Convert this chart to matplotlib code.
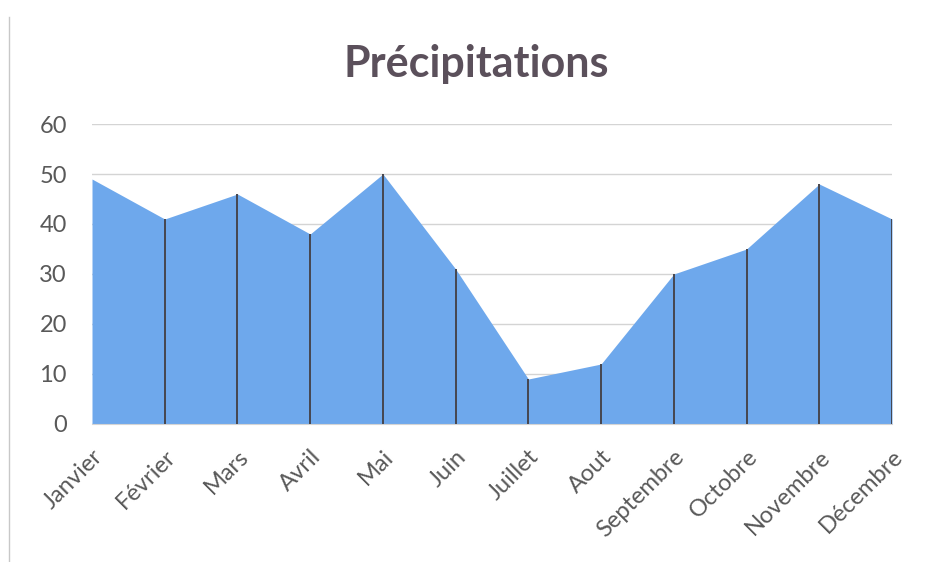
import matplotlib
matplotlib.use("Agg")
import matplotlib.pyplot as plt
import numpy as np

months = ["Janvier", "Février", "Mars", "Avril", "Mai", "Juin", "Juillet",
          "Aout", "Septembre", "Octobre", "Novembre", "Décembre"]
precip = [49, 41, 46, 38, 50, 31, 9, 12, 30, 35, 48, 41]
y_ticks = [0, 10, 20, 30, 40, 50, 60]

plt.rcParams["font.family"] = ["Lato", "DejaVu Sans"]

fig = plt.figure(figsize=(9.32, 5.62), dpi=100)
ax = fig.add_axes([92 / 932, 1 - 424 / 562, 800 / 932, 300 / 562])

x = np.arange(len(months))
ax.fill_between(x, 0, precip, color="#6ea8ec", linewidth=0, zorder=2)
ax.vlines(x[1:], 0, precip[1:], color="#46464e", linewidth=1.4, zorder=3)

ax.set_xlim(x[0], x[-1])
ax.set_ylim(0, 60)
ax.set_yticks(y_ticks)
ax.set_yticklabels([str(v) for v in y_ticks], fontsize=17, color="#595959")
ax.yaxis.grid(True, color="#d4d4d4", linewidth=1, zorder=0)
ax.set_axisbelow(True)

ax.set_xticks(x)
ax.set_xticklabels(months, rotation=45, ha="right", va="top",
                   rotation_mode="anchor", fontsize=17, color="#595959")
ax.tick_params(axis="y", length=0, pad=18)
ax.tick_params(axis="x", length=0, pad=16)

for side in ["top", "right", "left"]:
    ax.spines[side].set_visible(False)
ax.spines["bottom"].set_color("#d4d4d4")

fig.text(476 / 932, 1 - 64 / 562, "Précipitations", ha="center", va="center",
         fontsize=31, fontweight="bold", color="#5b505b")

# chart frame edge on the left
fig.add_artist(plt.Line2D([9 / 932, 9 / 932], [0, 1 - 17 / 562],
                          transform=fig.transFigure, color="#c8c8c8", linewidth=1))

fig.savefig("out.png", dpi=100, facecolor="white")
